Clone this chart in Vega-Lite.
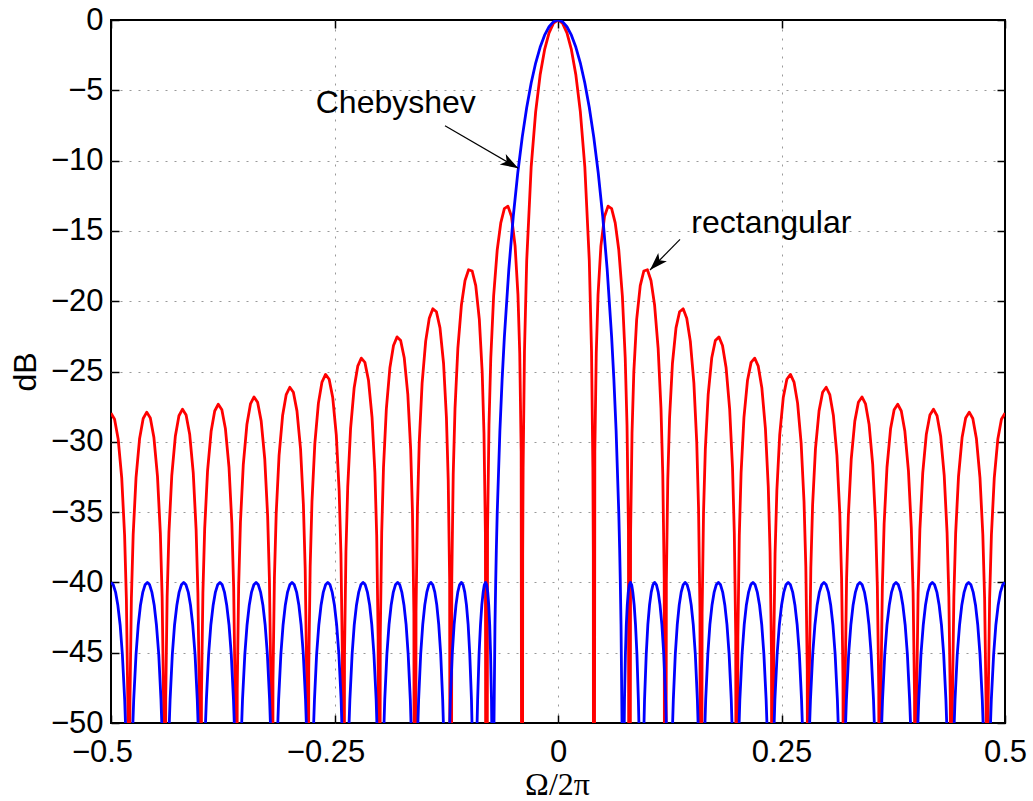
{
"$schema":"https://vega.github.io/schema/vega-lite/v6.json",
"width":894,"height":703,
"autosize":{"type":"none"},
"padding":{"left":111,"top":20,"right":28,"bottom":78},
"background":"white",
"config":{
 "view":{"stroke":"black","strokeWidth":2},
 "axis":{"labelFont":"Liberation Sans","labelFontSize":31,"labelColor":"black","tickColor":"black","tickWidth":1.5,"tickSize":-8,"domain":false,"gridColor":"#999999","gridDash":[2,7],"gridWidth":1,"titleColor":"black","titleFontWeight":"normal","labelFlush":false,"labelOverlap":false,"labelBound":false}
},
"datasets":{
"rect":[
{"f":-0.5,"db":-27.96},{"f":-0.496,"db":-28.40},{"f":-0.492,"db":-29.80},{"f":-0.488,"db":-32.57},{"f":-0.4848,"db":-36.63},{"f":-0.4828,"db":-41.18},{"f":-0.4812,"db":-48.47},{"f":-0.48,"db":-100},
{"f":-0.4788,"db":-48.47},{"f":-0.4772,"db":-41.16},{"f":-0.4752,"db":-36.61},{"f":-0.472,"db":-32.55},{"f":-0.468,"db":-29.76},{"f":-0.464,"db":-28.34},{"f":-0.46,"db":-27.89},{"f":-0.456,"db":-28.31},{"f":-0.452,"db":-29.70},{"f":-0.448,"db":-32.46},{"f":-0.4448,"db":-36.51},{"f":-0.4428,"db":-41.05},{"f":-0.4412,"db":-48.34},{"f":-0.44,"db":-100},
{"f":-0.4388,"db":-48.33},{"f":-0.4372,"db":-41.02},{"f":-0.4352,"db":-36.46},{"f":-0.432,"db":-32.38},{"f":-0.428,"db":-29.58},{"f":-0.424,"db":-28.15},{"f":-0.42,"db":-27.68},{"f":-0.416,"db":-28.09},{"f":-0.412,"db":-29.46},{"f":-0.408,"db":-32.21},{"f":-0.4048,"db":-36.24},{"f":-0.4028,"db":-40.77},{"f":-0.4012,"db":-48.06},{"f":-0.4,"db":-100},
{"f":-0.3988,"db":-48.04},{"f":-0.3972,"db":-40.73},{"f":-0.3952,"db":-36.16},{"f":-0.392,"db":-32.07},{"f":-0.388,"db":-29.25},{"f":-0.384,"db":-27.81},{"f":-0.38,"db":-27.33},{"f":-0.376,"db":-27.72},{"f":-0.372,"db":-29.08},{"f":-0.368,"db":-31.81},{"f":-0.3648,"db":-35.83},{"f":-0.3628,"db":-40.36},{"f":-0.3612,"db":-47.64},{"f":-0.36,"db":-100},
{"f":-0.3588,"db":-47.60},{"f":-0.3572,"db":-40.28},{"f":-0.3552,"db":-35.71},{"f":-0.352,"db":-31.60},{"f":-0.348,"db":-28.77},{"f":-0.344,"db":-27.31},{"f":-0.34,"db":-26.81},{"f":-0.336,"db":-27.19},{"f":-0.332,"db":-28.53},{"f":-0.328,"db":-31.24},{"f":-0.3248,"db":-35.25},{"f":-0.3228,"db":-39.77},{"f":-0.3212,"db":-47.04},{"f":-0.32,"db":-100},
{"f":-0.3188,"db":-47.00},{"f":-0.3172,"db":-39.67},{"f":-0.3152,"db":-35.09},{"f":-0.312,"db":-30.97},{"f":-0.308,"db":-28.11},{"f":-0.304,"db":-26.64},{"f":-0.3,"db":-26.12},{"f":-0.296,"db":-26.48},{"f":-0.292,"db":-27.80},{"f":-0.288,"db":-30.49},{"f":-0.2848,"db":-34.48},{"f":-0.2828,"db":-38.99},{"f":-0.2812,"db":-46.25},{"f":-0.28,"db":-100},
{"f":-0.2788,"db":-46.20},{"f":-0.2772,"db":-38.86},{"f":-0.2752,"db":-34.27},{"f":-0.272,"db":-30.13},{"f":-0.268,"db":-27.25},{"f":-0.264,"db":-25.75},{"f":-0.26,"db":-25.21},{"f":-0.256,"db":-25.55},{"f":-0.252,"db":-26.84},{"f":-0.248,"db":-29.51},{"f":-0.2448,"db":-33.48},{"f":-0.2428,"db":-37.98},{"f":-0.2412,"db":-45.23},{"f":-0.24,"db":-100},
{"f":-0.2388,"db":-45.16},{"f":-0.2372,"db":-37.82},{"f":-0.2352,"db":-33.21},{"f":-0.232,"db":-29.05},{"f":-0.228,"db":-26.15},{"f":-0.224,"db":-24.62},{"f":-0.22,"db":-24.05},{"f":-0.216,"db":-24.35},{"f":-0.212,"db":-25.62},{"f":-0.208,"db":-28.26},{"f":-0.2048,"db":-32.20},{"f":-0.2028,"db":-36.68},{"f":-0.2012,"db":-43.92},{"f":-0.2,"db":-100},
{"f":-0.1988,"db":-43.83},{"f":-0.1972,"db":-36.47},{"f":-0.1952,"db":-31.84},{"f":-0.192,"db":-27.65},{"f":-0.188,"db":-24.71},{"f":-0.184,"db":-23.15},{"f":-0.18,"db":-22.54},{"f":-0.176,"db":-22.80},{"f":-0.172,"db":-24.02},{"f":-0.168,"db":-26.62},{"f":-0.1648,"db":-30.53},{"f":-0.1628,"db":-34.98},{"f":-0.1612,"db":-42.20},{"f":-0.16,"db":-100},
{"f":-0.1588,"db":-42.09},{"f":-0.1572,"db":-34.71},{"f":-0.1552,"db":-30.06},{"f":-0.152,"db":-25.83},{"f":-0.148,"db":-22.84},{"f":-0.144,"db":-21.21},{"f":-0.14,"db":-20.54},{"f":-0.136,"db":-20.75},{"f":-0.132,"db":-21.90},{"f":-0.128,"db":-24.43},{"f":-0.1248,"db":-28.28},{"f":-0.1228,"db":-32.70},{"f":-0.1212,"db":-39.89},{"f":-0.12,"db":-100},
{"f":-0.1188,"db":-39.73},{"f":-0.1172,"db":-32.32},{"f":-0.1152,"db":-27.63},{"f":-0.112,"db":-23.33},{"f":-0.108,"db":-20.25},{"f":-0.104,"db":-18.53},{"f":-0.1,"db":-17.76},{"f":-0.096,"db":-17.85},{"f":-0.092,"db":-18.89},{"f":-0.088,"db":-21.29},{"f":-0.0848,"db":-25.04},{"f":-0.0828,"db":-29.39},{"f":-0.0812,"db":-36.53},{"f":-0.08,"db":-100},
{"f":-0.0788,"db":-36.28},{"f":-0.0772,"db":-28.82},{"f":-0.0752,"db":-24.06},{"f":-0.072,"db":-19.63},{"f":-0.068,"db":-16.36},{"f":-0.064,"db":-14.43},{"f":-0.06,"db":-13.41},{"f":-0.056,"db":-13.24},{"f":-0.052,"db":-13.98},{"f":-0.048,"db":-16.06},{"f":-0.0448,"db":-19.53},{"f":-0.0428,"db":-23.70},{"f":-0.0412,"db":-30.70},{"f":-0.04,"db":-100},
{"f":-0.0395,"db":-37.93},{"f":-0.039,"db":-31.81},{"f":-0.0375,"db":-23.56},{"f":-0.035,"db":-17.11},{"f":-0.03,"db":-10.44},{"f":-0.025,"db":-6.54},{"f":-0.02,"db":-3.92},{"f":-0.015,"db":-2.11},{"f":-0.01,"db":-0.91},{"f":-0.005,"db":-0.22},
{"f":0,"db":0},
{"f":0.005,"db":-0.22},{"f":0.01,"db":-0.91},{"f":0.015,"db":-2.11},{"f":0.02,"db":-3.92},{"f":0.025,"db":-6.54},{"f":0.03,"db":-10.44},{"f":0.035,"db":-17.11},{"f":0.0375,"db":-23.56},{"f":0.039,"db":-31.81},{"f":0.0395,"db":-37.93},{"f":0.04,"db":-100},
{"f":0.0412,"db":-30.70},{"f":0.0428,"db":-23.70},{"f":0.0448,"db":-19.53},{"f":0.048,"db":-16.06},{"f":0.052,"db":-13.98},{"f":0.056,"db":-13.24},{"f":0.06,"db":-13.41},{"f":0.064,"db":-14.43},{"f":0.068,"db":-16.36},{"f":0.072,"db":-19.63},{"f":0.0752,"db":-24.06},{"f":0.0772,"db":-28.82},{"f":0.0788,"db":-36.28},{"f":0.08,"db":-100},
{"f":0.0812,"db":-36.53},{"f":0.0828,"db":-29.39},{"f":0.0848,"db":-25.04},{"f":0.088,"db":-21.29},{"f":0.092,"db":-18.89},{"f":0.096,"db":-17.85},{"f":0.1,"db":-17.76},{"f":0.104,"db":-18.53},{"f":0.108,"db":-20.25},{"f":0.112,"db":-23.33},{"f":0.1152,"db":-27.63},{"f":0.1172,"db":-32.32},{"f":0.1188,"db":-39.73},{"f":0.12,"db":-100},
{"f":0.1212,"db":-39.89},{"f":0.1228,"db":-32.70},{"f":0.1248,"db":-28.28},{"f":0.128,"db":-24.43},{"f":0.132,"db":-21.90},{"f":0.136,"db":-20.75},{"f":0.14,"db":-20.54},{"f":0.144,"db":-21.21},{"f":0.148,"db":-22.84},{"f":0.152,"db":-25.83},{"f":0.1552,"db":-30.06},{"f":0.1572,"db":-34.71},{"f":0.1588,"db":-42.09},{"f":0.16,"db":-100},
{"f":0.1612,"db":-42.20},{"f":0.1628,"db":-34.98},{"f":0.1648,"db":-30.53},{"f":0.168,"db":-26.62},{"f":0.172,"db":-24.02},{"f":0.176,"db":-22.80},{"f":0.18,"db":-22.54},{"f":0.184,"db":-23.15},{"f":0.188,"db":-24.71},{"f":0.192,"db":-27.65},{"f":0.1952,"db":-31.84},{"f":0.1972,"db":-36.47},{"f":0.1988,"db":-43.83},{"f":0.2,"db":-100},
{"f":0.2012,"db":-43.92},{"f":0.2028,"db":-36.68},{"f":0.2048,"db":-32.20},{"f":0.208,"db":-28.26},{"f":0.212,"db":-25.62},{"f":0.216,"db":-24.35},{"f":0.22,"db":-24.05},{"f":0.224,"db":-24.62},{"f":0.228,"db":-26.15},{"f":0.232,"db":-29.05},{"f":0.2352,"db":-33.21},{"f":0.2372,"db":-37.82},{"f":0.2388,"db":-45.16},{"f":0.24,"db":-100},
{"f":0.2412,"db":-45.23},{"f":0.2428,"db":-37.98},{"f":0.2448,"db":-33.48},{"f":0.248,"db":-29.51},{"f":0.252,"db":-26.84},{"f":0.256,"db":-25.55},{"f":0.26,"db":-25.21},{"f":0.264,"db":-25.75},{"f":0.268,"db":-27.25},{"f":0.272,"db":-30.13},{"f":0.2752,"db":-34.27},{"f":0.2772,"db":-38.86},{"f":0.2788,"db":-46.20},{"f":0.28,"db":-100},
{"f":0.2812,"db":-46.25},{"f":0.2828,"db":-38.99},{"f":0.2848,"db":-34.48},{"f":0.288,"db":-30.49},{"f":0.292,"db":-27.80},{"f":0.296,"db":-26.48},{"f":0.3,"db":-26.12},{"f":0.304,"db":-26.64},{"f":0.308,"db":-28.11},{"f":0.312,"db":-30.97},{"f":0.3152,"db":-35.09},{"f":0.3172,"db":-39.67},{"f":0.3188,"db":-47.00},{"f":0.32,"db":-100},
{"f":0.3212,"db":-47.04},{"f":0.3228,"db":-39.77},{"f":0.3248,"db":-35.25},{"f":0.328,"db":-31.24},{"f":0.332,"db":-28.53},{"f":0.336,"db":-27.19},{"f":0.34,"db":-26.81},{"f":0.344,"db":-27.31},{"f":0.348,"db":-28.77},{"f":0.352,"db":-31.60},{"f":0.3552,"db":-35.71},{"f":0.3572,"db":-40.28},{"f":0.3588,"db":-47.60},{"f":0.36,"db":-100},
{"f":0.3612,"db":-47.64},{"f":0.3628,"db":-40.36},{"f":0.3648,"db":-35.83},{"f":0.368,"db":-31.81},{"f":0.372,"db":-29.08},{"f":0.376,"db":-27.72},{"f":0.38,"db":-27.33},{"f":0.384,"db":-27.81},{"f":0.388,"db":-29.25},{"f":0.392,"db":-32.07},{"f":0.3952,"db":-36.16},{"f":0.3972,"db":-40.73},{"f":0.3988,"db":-48.04},{"f":0.4,"db":-100},
{"f":0.4012,"db":-48.06},{"f":0.4028,"db":-40.77},{"f":0.4048,"db":-36.24},{"f":0.408,"db":-32.21},{"f":0.412,"db":-29.46},{"f":0.416,"db":-28.09},{"f":0.42,"db":-27.68},{"f":0.424,"db":-28.15},{"f":0.428,"db":-29.58},{"f":0.432,"db":-32.38},{"f":0.4352,"db":-36.46},{"f":0.4372,"db":-41.02},{"f":0.4388,"db":-48.33},{"f":0.44,"db":-100},
{"f":0.4412,"db":-48.34},{"f":0.4428,"db":-41.05},{"f":0.4448,"db":-36.51},{"f":0.448,"db":-32.46},{"f":0.452,"db":-29.70},{"f":0.456,"db":-28.31},{"f":0.46,"db":-27.89},{"f":0.464,"db":-28.34},{"f":0.468,"db":-29.76},{"f":0.472,"db":-32.55},{"f":0.4752,"db":-36.61},{"f":0.4772,"db":-41.16},{"f":0.4788,"db":-48.47},{"f":0.48,"db":-100},
{"f":0.4812,"db":-48.47},{"f":0.4828,"db":-41.18},{"f":0.4848,"db":-36.63},{"f":0.488,"db":-32.57},{"f":0.492,"db":-29.80},{"f":0.496,"db":-28.40},{"f":0.5,"db":-27.96}
],
"cheb":[
{"f":-0.5,"db":-40},{"f":-0.4975,"db":-40.17},{"f":-0.4949,"db":-40.69},{"f":-0.4924,"db":-41.60},{"f":-0.4898,"db":-43.01},{"f":-0.4873,"db":-45.11},{"f":-0.4847,"db":-48.34},{"f":-0.4838,"db":-50},{"f":-0.4797,"db":-100},
{"f":-0.4755,"db":-50},{"f":-0.4746,"db":-48.34},{"f":-0.4720,"db":-45.11},{"f":-0.4695,"db":-43.01},{"f":-0.4670,"db":-41.60},{"f":-0.4644,"db":-40.69},{"f":-0.4619,"db":-40.17},{"f":-0.4593,"db":-40},{"f":-0.4568,"db":-40.17},{"f":-0.4543,"db":-40.69},{"f":-0.4517,"db":-41.60},{"f":-0.4492,"db":-43.01},{"f":-0.4466,"db":-45.11},{"f":-0.4441,"db":-48.34},{"f":-0.4432,"db":-50},{"f":-0.4390,"db":-100},
{"f":-0.4348,"db":-50},{"f":-0.4339,"db":-48.34},{"f":-0.4314,"db":-45.11},{"f":-0.4289,"db":-43.01},{"f":-0.4263,"db":-41.60},{"f":-0.4238,"db":-40.69},{"f":-0.4212,"db":-40.17},{"f":-0.4187,"db":-40},{"f":-0.4162,"db":-40.17},{"f":-0.4136,"db":-40.69},{"f":-0.4111,"db":-41.60},{"f":-0.4086,"db":-43.01},{"f":-0.4060,"db":-45.11},{"f":-0.4035,"db":-48.34},{"f":-0.4026,"db":-50},{"f":-0.3984,"db":-100},
{"f":-0.3943,"db":-50},{"f":-0.3933,"db":-48.34},{"f":-0.3908,"db":-45.11},{"f":-0.3883,"db":-43.01},{"f":-0.3857,"db":-41.60},{"f":-0.3832,"db":-40.69},{"f":-0.3807,"db":-40.17},{"f":-0.3781,"db":-40},{"f":-0.3756,"db":-40.17},{"f":-0.3731,"db":-40.69},{"f":-0.3706,"db":-41.60},{"f":-0.3680,"db":-43.01},{"f":-0.3655,"db":-45.11},{"f":-0.3630,"db":-48.34},{"f":-0.3621,"db":-50},{"f":-0.3579,"db":-100},
{"f":-0.3538,"db":-50},{"f":-0.3529,"db":-48.34},{"f":-0.3503,"db":-45.11},{"f":-0.3478,"db":-43.01},{"f":-0.3453,"db":-41.60},{"f":-0.3428,"db":-40.69},{"f":-0.3402,"db":-40.17},{"f":-0.3377,"db":-40},{"f":-0.3352,"db":-40.17},{"f":-0.3327,"db":-40.69},{"f":-0.3301,"db":-41.60},{"f":-0.3276,"db":-43.01},{"f":-0.3251,"db":-45.11},{"f":-0.3226,"db":-48.34},{"f":-0.3217,"db":-50},{"f":-0.3176,"db":-100},
{"f":-0.3134,"db":-50},{"f":-0.3125,"db":-48.34},{"f":-0.3100,"db":-45.11},{"f":-0.3075,"db":-43.01},{"f":-0.3050,"db":-41.60},{"f":-0.3025,"db":-40.69},{"f":-0.3000,"db":-40.17},{"f":-0.2975,"db":-40},{"f":-0.2950,"db":-40.17},{"f":-0.2924,"db":-40.69},{"f":-0.2899,"db":-41.60},{"f":-0.2874,"db":-43.01},{"f":-0.2849,"db":-45.11},{"f":-0.2824,"db":-48.34},{"f":-0.2815,"db":-50},{"f":-0.2774,"db":-100},
{"f":-0.2733,"db":-50},{"f":-0.2724,"db":-48.34},{"f":-0.2700,"db":-45.11},{"f":-0.2675,"db":-43.01},{"f":-0.2650,"db":-41.60},{"f":-0.2625,"db":-40.69},{"f":-0.2600,"db":-40.17},{"f":-0.2575,"db":-40},{"f":-0.2550,"db":-40.17},{"f":-0.2526,"db":-40.69},{"f":-0.2501,"db":-41.60},{"f":-0.2476,"db":-43.01},{"f":-0.2451,"db":-45.11},{"f":-0.2426,"db":-48.34},{"f":-0.2418,"db":-50},{"f":-0.2377,"db":-100},
{"f":-0.2337,"db":-50},{"f":-0.2328,"db":-48.34},{"f":-0.2303,"db":-45.11},{"f":-0.2279,"db":-43.01},{"f":-0.2254,"db":-41.60},{"f":-0.2229,"db":-40.69},{"f":-0.2205,"db":-40.17},{"f":-0.2181,"db":-40},{"f":-0.2156,"db":-40.17},{"f":-0.2132,"db":-40.69},{"f":-0.2107,"db":-41.60},{"f":-0.2083,"db":-43.01},{"f":-0.2059,"db":-45.11},{"f":-0.2034,"db":-48.34},{"f":-0.2026,"db":-50},{"f":-0.1986,"db":-100},
{"f":-0.1946,"db":-50},{"f":-0.1938,"db":-48.34},{"f":-0.1914,"db":-45.11},{"f":-0.1890,"db":-43.01},{"f":-0.1866,"db":-41.60},{"f":-0.1842,"db":-40.69},{"f":-0.1818,"db":-40.17},{"f":-0.1794,"db":-40},{"f":-0.1770,"db":-40.17},{"f":-0.1747,"db":-40.69},{"f":-0.1723,"db":-41.60},{"f":-0.1699,"db":-43.01},{"f":-0.1676,"db":-45.11},{"f":-0.1652,"db":-48.34},{"f":-0.1644,"db":-50},{"f":-0.1606,"db":-100},
{"f":-0.1567,"db":-50},{"f":-0.1559,"db":-48.34},{"f":-0.1536,"db":-45.11},{"f":-0.1513,"db":-43.01},{"f":-0.1490,"db":-41.60},{"f":-0.1467,"db":-40.69},{"f":-0.1445,"db":-40.17},{"f":-0.1422,"db":-40},{"f":-0.1400,"db":-40.17},{"f":-0.1378,"db":-40.69},{"f":-0.1356,"db":-41.60},{"f":-0.1334,"db":-43.01},{"f":-0.1312,"db":-45.11},{"f":-0.1290,"db":-48.34},{"f":-0.1282,"db":-50},{"f":-0.1246,"db":-100},
{"f":-0.1211,"db":-50},{"f":-0.1204,"db":-48.34},{"f":-0.1183,"db":-45.11},{"f":-0.1162,"db":-43.01},{"f":-0.1141,"db":-41.60},{"f":-0.1121,"db":-40.69},{"f":-0.1101,"db":-40.17},{"f":-0.1081,"db":-40},{"f":-0.1062,"db":-40.17},{"f":-0.1043,"db":-40.69},{"f":-0.1024,"db":-41.60},{"f":-0.1005,"db":-43.01},{"f":-0.0987,"db":-45.11},{"f":-0.0968,"db":-48.34},{"f":-0.0962,"db":-50},{"f":-0.0933,"db":-100},
{"f":-0.0905,"db":-50},{"f":-0.0899,"db":-48.34},{"f":-0.0883,"db":-45.11},{"f":-0.0867,"db":-43.01},{"f":-0.0852,"db":-41.60},{"f":-0.0837,"db":-40.69},{"f":-0.0824,"db":-40.17},{"f":-0.0810,"db":-40},{"f":-0.0798,"db":-40.17},{"f":-0.0786,"db":-40.69},{"f":-0.0775,"db":-41.60},{"f":-0.0764,"db":-43.01},{"f":-0.0754,"db":-45.11},{"f":-0.0744,"db":-48.34},{"f":-0.0741,"db":-50},{"f":-0.0727,"db":-100},
{"f":-0.0716,"db":-50},{"f":-0.0705,"db":-43.01},{"f":-0.0697,"db":-40},{"f":-0.069,"db":-37.75},{"f":-0.068,"db":-35.09},{"f":-0.065,"db":-29.21},{"f":-0.0625,"db":-25.56},{"f":-0.06,"db":-22.55},{"f":-0.055,"db":-17.73},{"f":-0.05,"db":-13.95},{"f":-0.045,"db":-10.87},{"f":-0.04,"db":-8.33},{"f":-0.035,"db":-6.22},{"f":-0.03,"db":-4.48},{"f":-0.025,"db":-3.06},{"f":-0.02,"db":-1.94},{"f":-0.015,"db":-1.08},{"f":-0.01,"db":-0.48},{"f":-0.005,"db":-0.12},
{"f":0,"db":0},
{"f":0.005,"db":-0.12},{"f":0.01,"db":-0.48},{"f":0.015,"db":-1.08},{"f":0.02,"db":-1.94},{"f":0.025,"db":-3.06},{"f":0.03,"db":-4.48},{"f":0.035,"db":-6.22},{"f":0.04,"db":-8.33},{"f":0.045,"db":-10.87},{"f":0.05,"db":-13.95},{"f":0.055,"db":-17.73},{"f":0.06,"db":-22.55},{"f":0.0625,"db":-25.56},{"f":0.065,"db":-29.21},{"f":0.068,"db":-35.09},{"f":0.069,"db":-37.75},{"f":0.0697,"db":-40},{"f":0.0705,"db":-43.01},{"f":0.0716,"db":-50},{"f":0.0727,"db":-100},
{"f":0.0741,"db":-50},{"f":0.0744,"db":-48.34},{"f":0.0754,"db":-45.11},{"f":0.0764,"db":-43.01},{"f":0.0775,"db":-41.60},{"f":0.0786,"db":-40.69},{"f":0.0798,"db":-40.17},{"f":0.0810,"db":-40},{"f":0.0824,"db":-40.17},{"f":0.0837,"db":-40.69},{"f":0.0852,"db":-41.60},{"f":0.0867,"db":-43.01},{"f":0.0883,"db":-45.11},{"f":0.0899,"db":-48.34},{"f":0.0905,"db":-50},{"f":0.0933,"db":-100},
{"f":0.0962,"db":-50},{"f":0.0968,"db":-48.34},{"f":0.0987,"db":-45.11},{"f":0.1005,"db":-43.01},{"f":0.1024,"db":-41.60},{"f":0.1043,"db":-40.69},{"f":0.1062,"db":-40.17},{"f":0.1081,"db":-40},{"f":0.1101,"db":-40.17},{"f":0.1121,"db":-40.69},{"f":0.1141,"db":-41.60},{"f":0.1162,"db":-43.01},{"f":0.1183,"db":-45.11},{"f":0.1204,"db":-48.34},{"f":0.1211,"db":-50},{"f":0.1246,"db":-100},
{"f":0.1282,"db":-50},{"f":0.1290,"db":-48.34},{"f":0.1312,"db":-45.11},{"f":0.1334,"db":-43.01},{"f":0.1356,"db":-41.60},{"f":0.1378,"db":-40.69},{"f":0.1400,"db":-40.17},{"f":0.1422,"db":-40},{"f":0.1445,"db":-40.17},{"f":0.1467,"db":-40.69},{"f":0.1490,"db":-41.60},{"f":0.1513,"db":-43.01},{"f":0.1536,"db":-45.11},{"f":0.1559,"db":-48.34},{"f":0.1567,"db":-50},{"f":0.1606,"db":-100},
{"f":0.1644,"db":-50},{"f":0.1652,"db":-48.34},{"f":0.1676,"db":-45.11},{"f":0.1699,"db":-43.01},{"f":0.1723,"db":-41.60},{"f":0.1747,"db":-40.69},{"f":0.1770,"db":-40.17},{"f":0.1794,"db":-40},{"f":0.1818,"db":-40.17},{"f":0.1842,"db":-40.69},{"f":0.1866,"db":-41.60},{"f":0.1890,"db":-43.01},{"f":0.1914,"db":-45.11},{"f":0.1938,"db":-48.34},{"f":0.1946,"db":-50},{"f":0.1986,"db":-100},
{"f":0.2026,"db":-50},{"f":0.2034,"db":-48.34},{"f":0.2059,"db":-45.11},{"f":0.2083,"db":-43.01},{"f":0.2107,"db":-41.60},{"f":0.2132,"db":-40.69},{"f":0.2156,"db":-40.17},{"f":0.2181,"db":-40},{"f":0.2205,"db":-40.17},{"f":0.2229,"db":-40.69},{"f":0.2254,"db":-41.60},{"f":0.2279,"db":-43.01},{"f":0.2303,"db":-45.11},{"f":0.2328,"db":-48.34},{"f":0.2337,"db":-50},{"f":0.2377,"db":-100},
{"f":0.2418,"db":-50},{"f":0.2426,"db":-48.34},{"f":0.2451,"db":-45.11},{"f":0.2476,"db":-43.01},{"f":0.2501,"db":-41.60},{"f":0.2526,"db":-40.69},{"f":0.2550,"db":-40.17},{"f":0.2575,"db":-40},{"f":0.2600,"db":-40.17},{"f":0.2625,"db":-40.69},{"f":0.2650,"db":-41.60},{"f":0.2675,"db":-43.01},{"f":0.2700,"db":-45.11},{"f":0.2724,"db":-48.34},{"f":0.2733,"db":-50},{"f":0.2774,"db":-100},
{"f":0.2815,"db":-50},{"f":0.2824,"db":-48.34},{"f":0.2849,"db":-45.11},{"f":0.2874,"db":-43.01},{"f":0.2899,"db":-41.60},{"f":0.2924,"db":-40.69},{"f":0.2950,"db":-40.17},{"f":0.2975,"db":-40},{"f":0.3000,"db":-40.17},{"f":0.3025,"db":-40.69},{"f":0.3050,"db":-41.60},{"f":0.3075,"db":-43.01},{"f":0.3100,"db":-45.11},{"f":0.3125,"db":-48.34},{"f":0.3134,"db":-50},{"f":0.3176,"db":-100},
{"f":0.3217,"db":-50},{"f":0.3226,"db":-48.34},{"f":0.3251,"db":-45.11},{"f":0.3276,"db":-43.01},{"f":0.3301,"db":-41.60},{"f":0.3327,"db":-40.69},{"f":0.3352,"db":-40.17},{"f":0.3377,"db":-40},{"f":0.3402,"db":-40.17},{"f":0.3428,"db":-40.69},{"f":0.3453,"db":-41.60},{"f":0.3478,"db":-43.01},{"f":0.3503,"db":-45.11},{"f":0.3529,"db":-48.34},{"f":0.3538,"db":-50},{"f":0.3579,"db":-100},
{"f":0.3621,"db":-50},{"f":0.3630,"db":-48.34},{"f":0.3655,"db":-45.11},{"f":0.3680,"db":-43.01},{"f":0.3706,"db":-41.60},{"f":0.3731,"db":-40.69},{"f":0.3756,"db":-40.17},{"f":0.3781,"db":-40},{"f":0.3807,"db":-40.17},{"f":0.3832,"db":-40.69},{"f":0.3857,"db":-41.60},{"f":0.3883,"db":-43.01},{"f":0.3908,"db":-45.11},{"f":0.3933,"db":-48.34},{"f":0.3943,"db":-50},{"f":0.3984,"db":-100},
{"f":0.4026,"db":-50},{"f":0.4035,"db":-48.34},{"f":0.4060,"db":-45.11},{"f":0.4086,"db":-43.01},{"f":0.4111,"db":-41.60},{"f":0.4136,"db":-40.69},{"f":0.4162,"db":-40.17},{"f":0.4187,"db":-40},{"f":0.4212,"db":-40.17},{"f":0.4238,"db":-40.69},{"f":0.4263,"db":-41.60},{"f":0.4289,"db":-43.01},{"f":0.4314,"db":-45.11},{"f":0.4339,"db":-48.34},{"f":0.4348,"db":-50},{"f":0.4390,"db":-100},
{"f":0.4432,"db":-50},{"f":0.4441,"db":-48.34},{"f":0.4466,"db":-45.11},{"f":0.4492,"db":-43.01},{"f":0.4517,"db":-41.60},{"f":0.4543,"db":-40.69},{"f":0.4568,"db":-40.17},{"f":0.4593,"db":-40},{"f":0.4619,"db":-40.17},{"f":0.4644,"db":-40.69},{"f":0.4670,"db":-41.60},{"f":0.4695,"db":-43.01},{"f":0.4720,"db":-45.11},{"f":0.4746,"db":-48.34},{"f":0.4755,"db":-50},{"f":0.4797,"db":-100},
{"f":0.4838,"db":-50},{"f":0.4847,"db":-48.34},{"f":0.4873,"db":-45.11},{"f":0.4898,"db":-43.01},{"f":0.4924,"db":-41.60},{"f":0.4949,"db":-40.69},{"f":0.4975,"db":-40.17},{"f":0.5,"db":-40}
],
"arrows":[
{"label":"Chebyshev","f":-0.1264,"db":-7.52,"f2":-0.0444,"db2":-10.55},
{"label":"rectangular","f":0.1365,"db":-15.6,"f2":0.1029,"db2":-17.78}
],
"notes":[
{"label":"Chebyshev","f":-0.271,"db":-6.64},
{"label":"rectangular","f":0.1491,"db":-15.17}
]
},
"layer":[
{"data":{"name":"rect"},
 "mark":{"type":"line","color":"#ff0000","strokeWidth":2.8,"clip":true,"strokeJoin":"round"},
 "encoding":{
  "x":{"field":"f","type":"quantitative","scale":{"domain":[-0.5,0.5],"nice":false,"zero":false},
   "axis":{"orient":"bottom","values":[-0.5,-0.25,0,0.25,0.5],"format":".2~f","grid":true,
    "gridOpacity":{"condition":{"test":"abs(datum.value) == 0.5","value":0},"value":1},
    "labelPadding":22,"labelOffset":{"condition":{"test":"datum.value < 0","value":-9},"value":0},
    "title":"Ω/2π","titleFont":"Liberation Serif","titleFontSize":32,"titleX":446,"titleY":71.5,"titleAlign":"center","titleBaseline":"alphabetic","titleAngle":0}},
  "y":{"field":"db","type":"quantitative","scale":{"domain":[-50,0],"nice":false,"zero":false},
   "axis":{"orient":"left","values":[-50,-45,-40,-35,-30,-25,-20,-15,-10,-5,0],"format":"d","grid":true,
    "gridOpacity":{"condition":{"test":"datum.value == 0 || datum.value == -50","value":0},"value":1},
    "labelPadding":16,
    "title":"dB","titleFont":"Liberation Sans","titleFontSize":32,"titleX":-76,"titleY":351.5,"titleAlign":"center","titleBaseline":"alphabetic","titleAngle":-90}}
 }},
{"data":{"name":"cheb"},
 "mark":{"type":"line","color":"#0000ff","strokeWidth":2.8,"clip":true,"strokeJoin":"round"},
 "encoding":{
  "x":{"field":"f","type":"quantitative","scale":{"domain":[-0.5,0.5],"nice":false,"zero":false},
   "axis":{"orient":"top","values":[-0.5,-0.25,0,0.25,0.5],"labels":false,"grid":false,"title":null}},
  "y":{"field":"db","type":"quantitative","scale":{"domain":[-50,0],"nice":false,"zero":false},
   "axis":{"orient":"right","values":[-50,-45,-40,-35,-30,-25,-20,-15,-10,-5,0],"labels":false,"grid":false,"title":null}}
 }},
{"data":{"name":"arrows"},
 "mark":{"type":"rule","color":"black","strokeWidth":1.2},
 "encoding":{
  "x":{"field":"f","type":"quantitative","scale":{"domain":[-0.5,0.5],"nice":false,"zero":false},"axis":null},
  "y":{"field":"db","type":"quantitative","scale":{"domain":[-50,0],"nice":false,"zero":false},"axis":null},
  "x2":{"field":"f2"},"y2":{"field":"db2"}
 }},
{"data":{"name":"arrows"},
 "transform":[{"filter":"datum.label == 'Chebyshev'"}],
 "mark":{"type":"point","shape":"M0,0L-1.8,-0.6L-1.35,0L-1.8,0.6Z","size":400,"filled":true,"color":"black","opacity":1,"angle":30.2,"strokeWidth":0},
 "encoding":{
  "x":{"field":"f2","type":"quantitative","scale":{"domain":[-0.5,0.5],"nice":false,"zero":false},"axis":null},
  "y":{"field":"db2","type":"quantitative","scale":{"domain":[-50,0],"nice":false,"zero":false},"axis":null}
 }},
{"data":{"name":"arrows"},
 "transform":[{"filter":"datum.label == 'rectangular'"}],
 "mark":{"type":"point","shape":"M0,0L-1.8,-0.6L-1.35,0L-1.8,0.6Z","size":400,"filled":true,"color":"black","opacity":1,"angle":134.3,"strokeWidth":0},
 "encoding":{
  "x":{"field":"f2","type":"quantitative","scale":{"domain":[-0.5,0.5],"nice":false,"zero":false},"axis":null},
  "y":{"field":"db2","type":"quantitative","scale":{"domain":[-50,0],"nice":false,"zero":false},"axis":null}
 }},
{"data":{"name":"notes"},
 "mark":{"type":"text","align":"left","baseline":"alphabetic","font":"Liberation Sans","fontSize":32,"color":"black"},
 "encoding":{
  "x":{"field":"f","type":"quantitative","scale":{"domain":[-0.5,0.5],"nice":false,"zero":false},"axis":null},
  "y":{"field":"db","type":"quantitative","scale":{"domain":[-50,0],"nice":false,"zero":false},"axis":null},
  "text":{"field":"label"}
 }}
],
"resolve":{"axis":{"x":"independent","y":"independent"}}
}
